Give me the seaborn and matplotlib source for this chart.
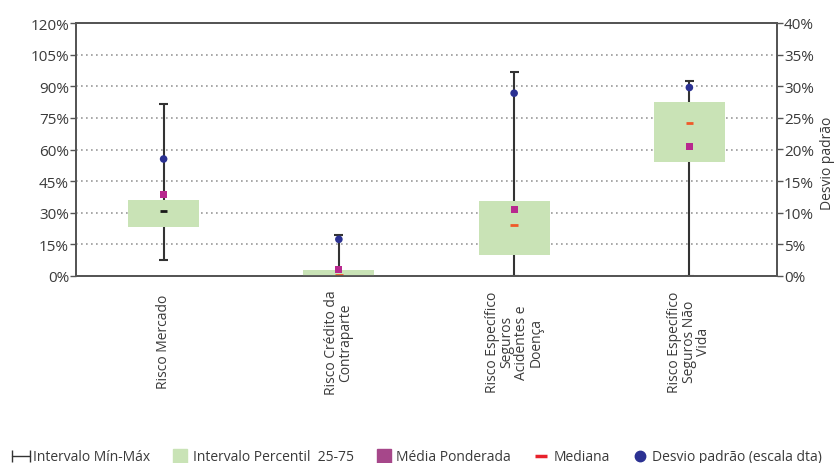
import numpy as np
import pandas as pd
import matplotlib
matplotlib.use("Agg")
import matplotlib.pyplot as plt
from matplotlib import font_manager
from matplotlib.lines import Line2D
from matplotlib.legend_handler import HandlerLine2D
from matplotlib.ticker import FuncFormatter
import seaborn as sns

# ---- data (percent) ----
categories = [
    "Risco Mercado",
    "Risco Crédito da\nContraparte",
    "Risco Específico\nSeguros\nAcidentes e\nDoença",
    "Risco Específico\nSeguros Não\nVida",
]
min_vals = [7.4, 0.0, 0.0, 0.0]
max_vals = [81.5, 19.5, 96.9, 92.3]
p25_vals = [23.3, 0.0, 10.0, 54.3]
p75_vals = [36.1, 2.8, 35.6, 82.6]
median_vals = [30.7, 0.3, 24.2, 72.6]
wmean_vals = [38.5, 3.0, 31.7, 61.6]
std_vals = [18.5, 5.8, 28.9, 29.8]   # right-hand scale

left_ticks = list(range(0, 121, 15))
right_ticks = list(range(0, 41, 5))

legend_labels = [
    "Intervalo Mín-Máx",
    "Intervalo Percentil  25-75",
    "Média Ponderada",
    "Mediana",
    "Desvio padrão (escala dta)",
]

# ---- style ----
sns.set_theme(style="white")
plt.rcParams["font.family"] = ["Open Sans", "DejaVu Sans"]
available = {f.name for f in font_manager.fontManager.ttflist}
if "Liberation Sans Narrow" in available:
    legend_font = dict(family=["Liberation Sans Narrow", "DejaVu Sans"], size=11)
else:
    legend_font = dict(family=["Open Sans", "DejaVu Sans"], size=10)

BOX_GREEN = "#c9e3b6"
MEAN_PURPLE = "#b8288f"
LEG_PURPLE = "#a6478a"
MEDIAN_RED = "#f05a28"
STD_BLUE = "#2b3192"
WHISKER = "#333333"
TEXT = "#3a3a3a"
SPINE = "#555555"

df = pd.DataFrame({
    "pos": np.arange(len(categories)),
    "lo": min_vals, "hi": max_vals,
    "p25": p25_vals, "p75": p75_vals,
    "median": median_vals, "wmean": wmean_vals, "std": std_vals,
})
df["median_tone"] = ["dark", "red", "red", "red"]

fig = plt.figure(figsize=(8.34, 4.64), dpi=100)
ax = fig.add_axes([76 / 834, 1 - 277 / 464, (777 - 76) / 834, (277 - 24) / 464])

# min-max whiskers with caps
ax.vlines(df["pos"], df["lo"], df["hi"], color=WHISKER, lw=1.5, zorder=2)
cap = 0.025
ax.hlines(df["hi"], df["pos"] - cap, df["pos"] + cap, color=WHISKER, lw=1.5, zorder=2)
ax.hlines(df["lo"], df["pos"] - cap, df["pos"] + cap, color=WHISKER, lw=1.5, zorder=2)

# 25-75 percentile boxes
ax.bar(df["pos"], df["p75"] - df["p25"], bottom=df["p25"], width=0.405,
       color=BOX_GREEN, zorder=3, linewidth=0)

# medians and weighted means
sns.scatterplot(data=df, x="pos", y="median", hue="median_tone",
                palette={"dark": "#1a1a1a", "red": MEDIAN_RED}, marker="_",
                s=30, linewidth=2.0, legend=False, ax=ax, zorder=5)
sns.scatterplot(data=df, x="pos", y="wmean", marker="s", s=24,
                color=MEAN_PURPLE, edgecolor="none", legend=False, ax=ax, zorder=6)

ax.set_xlim(-0.5, len(categories) - 0.5)
ax.set_ylim(0, 120)
ax.set_yticks(left_ticks)
ax.yaxis.set_major_formatter(FuncFormatter(lambda v, p: f"{v:.0f}%"))
ax.grid(axis="y", linestyle=(0, (1, 2)), color="#9a9a9a", lw=1.2)
ax.set_axisbelow(True)
ax.set_xlabel("")
ax.set_ylabel("")

ax.set_xticks(df["pos"])
ax.set_xticklabels(categories, rotation=90, va="center", ha="center",
                   multialignment="center", linespacing=0.95,
                   fontsize=10, color=TEXT)
ax.tick_params(axis="x", which="major", length=0, pad=47)
ax.set_xticks([0.5, 1.5, 2.5], minor=True)
ax.tick_params(axis="x", which="minor", length=4, width=1, color=SPINE, direction="out")
ax.tick_params(axis="y", length=4, width=1, color=SPINE, direction="out",
               labelsize=11, labelcolor=TEXT, pad=1)
for s in ax.spines.values():
    s.set_color(SPINE)
    s.set_linewidth(1.3)

# standard deviation on the right-hand axis
ax2 = ax.twinx()
sns.scatterplot(data=df, x="pos", y="std", marker="o", s=30, color=STD_BLUE,
                edgecolor="none", legend=False, ax=ax2, zorder=7)
ax2.set_ylim(0, 40)
ax2.set_yticks(right_ticks)
ax2.yaxis.set_major_formatter(FuncFormatter(lambda v, p: f"{v:.0f}%"))
ax2.tick_params(axis="y", length=4, width=1, color=SPINE, direction="out",
                labelsize=11, labelcolor=TEXT, pad=1)
ax2.set_ylabel("Desvio padrão", fontsize=10, color=TEXT, rotation=90)
ax2.yaxis.set_label_coords(1.061, 0.45)
ax2.set_xlabel("")
for s in ax2.spines.values():
    s.set_color(SPINE)
    s.set_linewidth(1.3)

# legend
h_range = Line2D([], [], color=WHISKER, lw=1.0, marker="|", markersize=8, mew=1.0)
h_box = Line2D([], [], color=BOX_GREEN, lw=0, marker="s", markersize=10)
h_mean = Line2D([], [], color=LEG_PURPLE, lw=0, marker="s", markersize=10)
h_med = Line2D([], [], color="#e8212b", lw=0, marker="_", markersize=9, mew=2.5)
h_std = Line2D([], [], color=STD_BLUE, lw=0, marker="o", markersize=7.5)
fig.legend([h_range, h_box, h_mean, h_med, h_std], legend_labels,
           loc="lower center", bbox_to_anchor=(0.5, -0.03), ncol=5, frameon=False,
           prop=legend_font, handlelength=1.3, handletextpad=0.25,
           columnspacing=1.5, labelcolor=TEXT,
           handler_map={h_range: HandlerLine2D(numpoints=2, marker_pad=0)})

fig.savefig("out.png", dpi=100)
